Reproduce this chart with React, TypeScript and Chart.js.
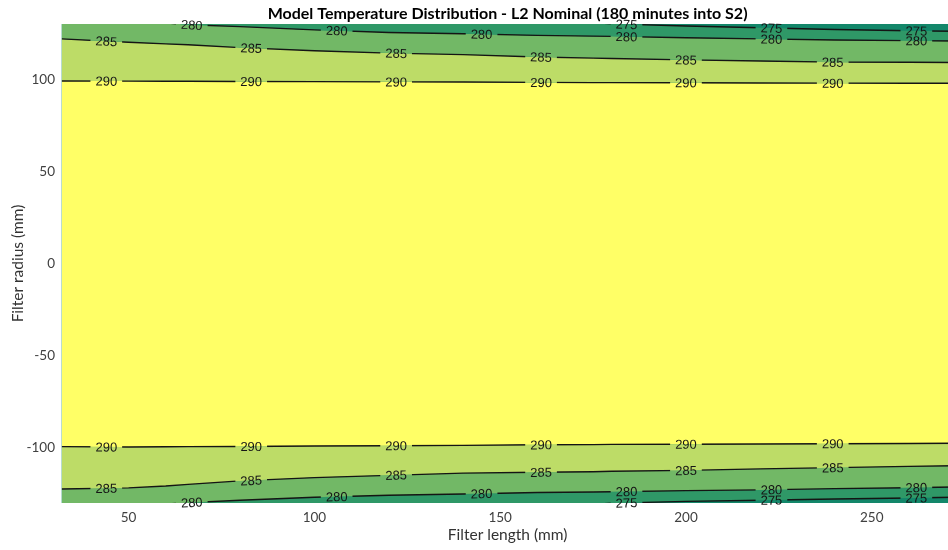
import React, { useEffect, useRef } from 'react';
import { Chart, registerables } from 'chart.js';

Chart.register(...registerables);

const TITLE = 'Model Temperature Distribution - L2 Nominal (180 minutes into S2)';
const X_LABEL = 'Filter length (mm)';
const Y_LABEL = 'Filter radius (mm)';
const X_TICKS = [50, 100, 150, 200, 250];
const Y_TICKS = [-100, -50, 0, 50, 100];

// sample positions along the filter length (mm)
const LENGTH_MM = [32, 50, 60, 66, 80, 100, 120, 140, 160, 175, 180, 200, 220, 240, 260, 272];

// contour radii (mm) at the sample positions; values beyond ±130 lie outside the plot
const TOP_275 = [140, 140, 140, 140, 140, 139, 138, 136, 133.5, 130.8, 130.1, 128.9, 128.0, 127.0, 126.3, 126.1];
const TOP_280 = [137, 133.3, 130.6, 129.6, 128.6, 126.8, 125.4, 124.7, 123.8, 123.4, 123.3, 122.5, 121.9, 121.3, 121.0, 120.8];
const TOP_285 = [121.9, 120.1, 119.2, 118.7, 117.2, 115.5, 114.2, 113.4, 112.1, 111.5, 111.3, 110.5, 109.9, 109.3, 109.2, 109.1];
const TOP_290 = [99.1, 99.0, 98.9, 98.9, 98.8, 98.7, 98.6, 98.5, 98.3, 98.2, 98.2, 98.1, 98.0, 97.9, 97.8, 97.8];
const BOT_290 = [-99.4, -99.6, -99.5, -99.4, -99.3, -99.1, -98.9, -98.7, -98.4, -98.3, -98.2, -98.1, -98.0, -97.8, -97.7, -97.6];
const BOT_285 = [-122.4, -121.8, -120.8, -119.9, -118.0, -116.2, -115.0, -113.8, -113.3, -113.0, -112.8, -112.3, -111.5, -110.8, -110.1, -109.8];
const BOT_280 = [-137, -133.4, -130.6, -129.8, -128.5, -126.9, -125.8, -125.1, -124.3, -124.0, -123.9, -123.3, -122.9, -122.2, -121.7, -121.3];
const BOT_275 = [-140, -140, -140, -140, -140, -139, -138, -136, -133.5, -130.8, -130.1, -129.1, -128.5, -127.8, -127.3, -126.9];

const LEVELS = [275, 280, 285, 290];
// band colours: <275, 275-280, 280-285, 285-290, >290
const BAND_COLORS = ['#13876A', '#2F9867', '#72B866', '#BDDC67', '#FFFF66'];

// filter length positions of the inline contour labels
const LABEL_X_290 = [44, 83, 122, 161, 200, 239.5];
const LABEL_X_285 = [44, 83, 122, 161, 200, 239.5];
const LABEL_X_280 = [67, 106, 145, 184, 223, 262];
const LABEL_X_275 = [184, 223, 262];

const LABEL_FONT = '13px "Liberation Sans", Arial, sans-serif';

function interp(values: number[], x: number): number {
  const xs = LENGTH_MM;
  if (x <= xs[0]) return values[0];
  for (let i = 1; i < xs.length; i++) {
    if (x <= xs[i]) {
      const t = (x - xs[i - 1]) / (xs[i] - xs[i - 1]);
      return values[i - 1] + t * (values[i] - values[i - 1]);
    }
  }
  return values[values.length - 1];
}

function labelGeoms(chart: any, ds: any) {
  const xs = chart.scales.x;
  const ys = chart.scales.y;
  const ctx = chart.ctx;
  ctx.save();
  ctx.font = LABEL_FONT;
  const w = ctx.measureText(String(ds.level)).width;
  ctx.restore();
  return ds.labelXs.map((lx: number) => {
    const v = interp(ds.values, lx);
    const px = xs.getPixelForValue(lx);
    const py = ys.getPixelForValue(v);
    const ax = xs.getPixelForValue(lx - 5);
    const ay = ys.getPixelForValue(interp(ds.values, lx - 5));
    const bx = xs.getPixelForValue(lx + 5);
    const by = ys.getPixelForValue(interp(ds.values, lx + 5));
    const ang = Math.atan2(by - ay, bx - ax);
    return { px, py, ang, hw: w / 2 + 5, hh: 8 };
  });
}

const chartBackground = {
  id: 'chartBackground',
  beforeDraw(chart: any) {
    const { ctx, chartArea } = chart;
    if (!chartArea) return;
    ctx.save();
    ctx.fillStyle = BAND_COLORS[0];
    ctx.fillRect(chartArea.left, chartArea.top, chartArea.right - chartArea.left, chartArea.bottom - chartArea.top);
    ctx.restore();
  },
};

const contourLabels = {
  id: 'contourLabels',
  beforeDatasetDraw(chart: any, args: any) {
    const ds = chart.data.datasets[args.index];
    if (!ds || !ds.labelXs) return;
    const ctx = chart.ctx;
    const geoms = labelGeoms(chart, ds);
    ctx.save();
    ctx.beginPath();
    ctx.rect(0, 0, chart.width, chart.height);
    for (const g of geoms) {
      const c = Math.cos(g.ang);
      const s = Math.sin(g.ang);
      const pts = [
        [-g.hw, -g.hh],
        [g.hw, -g.hh],
        [g.hw, g.hh],
        [-g.hw, g.hh],
      ].map(([dx, dy]) => [g.px + dx * c - dy * s, g.py + dx * s + dy * c]);
      ctx.moveTo(pts[0][0], pts[0][1]);
      for (let i = 1; i < 4; i++) ctx.lineTo(pts[i][0], pts[i][1]);
      ctx.closePath();
    }
    ctx.clip('evenodd');
  },
  afterDatasetDraw(chart: any, args: any) {
    const ds = chart.data.datasets[args.index];
    if (!ds || !ds.labelXs) return;
    chart.ctx.restore();
  },
  afterDatasetsDraw(chart: any) {
    const ctx = chart.ctx;
    chart.data.datasets.forEach((ds: any) => {
      if (!ds.labelXs) return;
      const geoms = labelGeoms(chart, ds);
      for (const g of geoms) {
        ctx.save();
        ctx.translate(g.px, g.py);
        ctx.rotate(g.ang);
        ctx.font = LABEL_FONT;
        ctx.fillStyle = '#161616';
        ctx.textAlign = 'center';
        ctx.textBaseline = 'middle';
        ctx.fillText(String(ds.level), 0, 1);
        ctx.restore();
      }
    });
  },
};

function contour(values: number[], level: number, labelXs: number[], fill: any, color: string) {
  return {
    data: LENGTH_MM.map((x, i) => ({ x, y: values[i] })),
    values,
    level,
    labelXs,
    borderColor: '#141414',
    borderWidth: 1.4,
    backgroundColor: color,
    fill,
    pointRadius: 0,
    tension: 0,
  };
}

export default function App() {
  const canvasRef = useRef<HTMLCanvasElement | null>(null);

  useEffect(() => {
    const canvas = canvasRef.current;
    if (!canvas) return;
    const datasets = [
      contour(TOP_275, LEVELS[0], LABEL_X_275, '+1', BAND_COLORS[1]),
      contour(TOP_280, LEVELS[1], LABEL_X_280, '+1', BAND_COLORS[2]),
      contour(TOP_285, LEVELS[2], LABEL_X_285, '+1', BAND_COLORS[3]),
      contour(TOP_290, LEVELS[3], LABEL_X_290, '+1', BAND_COLORS[4]),
      contour(BOT_290, LEVELS[3], LABEL_X_290, '+1', BAND_COLORS[3]),
      contour(BOT_285, LEVELS[2], LABEL_X_285, '+1', BAND_COLORS[2]),
      contour(BOT_280, LEVELS[1], LABEL_X_280, '+1', BAND_COLORS[1]),
      contour(BOT_275, LEVELS[0], LABEL_X_275, false, BAND_COLORS[0]),
    ];
    const chart = new Chart(canvas, {
      type: 'line',
      data: { datasets: datasets as any },
      plugins: [chartBackground, contourLabels],
      options: {
        animation: false,
        responsive: false,
        devicePixelRatio: 1,
        layout: { padding: { left: 0, right: 6.5, top: 0, bottom: 0 } },
        plugins: {
          legend: { display: false },
          tooltip: { enabled: false },
          filler: { drawTime: 'beforeDatasetsDraw', propagate: false },
          title: {
            display: true,
            text: TITLE,
            fullSize: false,
            color: '#000',
            font: { family: 'Lato', size: 16, weight: 'bold' },
            padding: { top: 4, bottom: 0.8 },
          },
        } as any,
        scales: {
          x: {
            type: 'linear',
            min: 32,
            max: 272,
            afterBuildTicks: (s: any) => {
              s.ticks = X_TICKS.map((v) => ({ value: v }));
            },
            afterFit: (s: any) => {
              s.height = 47;
            },
            grid: { display: false, drawTicks: false },
            border: { display: false },
            ticks: { color: '#404040', font: { family: 'Lato', size: 13.5 }, padding: 6.6 },
            title: {
              display: true,
              text: X_LABEL,
              color: '#333',
              font: { family: 'Lato', size: 15.5 },
              padding: { top: 0, bottom: 5.7 },
            },
          },
          y: {
            type: 'linear',
            min: -130,
            max: 130,
            afterBuildTicks: (s: any) => {
              s.ticks = Y_TICKS.map((v) => ({ value: v }));
            },
            afterFit: (s: any) => {
              s.width = 61.7;
            },
            grid: { display: false, drawTicks: false },
            border: { display: false },
            ticks: { color: '#404040', font: { family: 'Lato', size: 13.5 }, padding: 6.7 },
            title: {
              display: true,
              text: Y_LABEL,
              color: '#333',
              font: { family: 'Lato', size: 15.5 },
              padding: { top: 8.7, bottom: 0 },
            },
          },
        } as any,
      },
    });
    return () => chart.destroy();
  }, []);

  return (
    <div
      style={{
        position: 'fixed',
        left: 0,
        top: 0,
        width: 948,
        height: 550,
        overflow: 'hidden',
        background: '#fff',
      }}
    >
      <canvas ref={canvasRef} width={960} height={550} style={{ display: 'block', width: 960, height: 550 }} />
    </div>
  );
}
